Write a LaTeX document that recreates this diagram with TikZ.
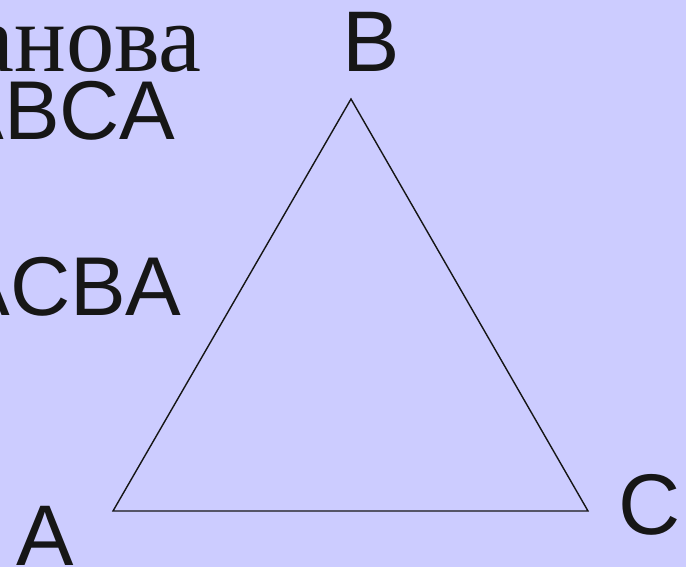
\documentclass[tikz,border=0pt]{standalone}
\usepackage{fontspec}
\setmainfont{Liberation Serif}
\newfontfamily\labelfont{Liberation Sans}
\definecolor{lavender}{RGB}{204,204,255}
\definecolor{inkblack}{RGB}{22,22,22}
\tikzset{
  vertexlabel/.style={inner sep=0pt,text=inkblack,font=\labelfont\fontsize{49}{59}\selectfont},
  wordlabel/.style={inner sep=0pt,text=inkblack,anchor=base east},
}

\begin{document}
\begin{tikzpicture}[x=0.02cm,y=-0.02cm]
\fill[lavender] (0,0) rectangle (686,567);
\useasboundingbox (0,0) rectangle (686,567);
\clip (0,0) rectangle (686,567);
% vertices
\coordinate (A) at (113,511);
\coordinate (B) at (351,99);
\coordinate (C) at (588,511);
\draw[inkblack,line width=0.8pt,line join=miter] (A) -- (B) -- (C) -- cycle;
% vertex letters
\node[vertexlabel,anchor=base] (labelA) at (45,565) {A};
\node[vertexlabel,anchor=base] (labelB) at (371,72) {B};
\node[vertexlabel,anchor=base] (labelC) at (650,534) {C};
% left column, cut off at the edge
\node[wordlabel,font=\fontsize{55}{66}\selectfont] (title) at (202,72) {анова};
\node[wordlabel,font=\labelfont\fontsize{47.5}{57}\selectfont] (word1) at (176,140) {ABCA};
\node[wordlabel,font=\labelfont\fontsize{47.5}{57}\selectfont] (word2) at (182,316) {ACBA};
\end{tikzpicture}
\end{document}
